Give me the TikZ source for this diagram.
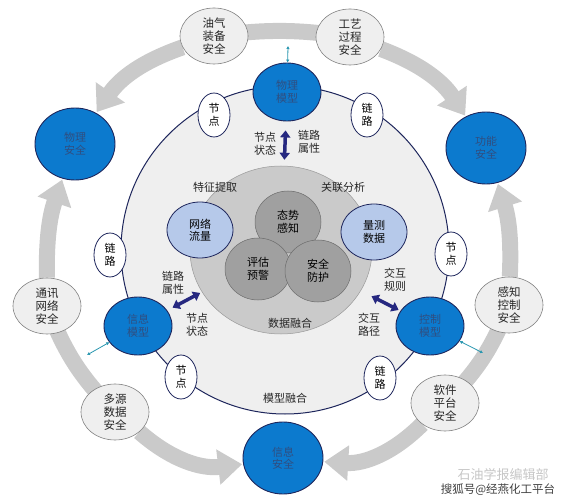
\documentclass[tikz,border=0pt]{standalone}
\usepackage{fontspec}
\setmainfont{Noto Sans CJK SC}
\usepackage{tikz}
\usetikzlibrary{shapes,arrows.meta,positioning,calc,backgrounds}
\definecolor{modelblue}{RGB}{12,122,206}
\definecolor{navyline}{RGB}{30,38,92}
\definecolor{bluetext}{RGB}{48,78,128}
\definecolor{ringgray}{RGB}{202,202,202}
\definecolor{palegray}{RGB}{239,239,239}
\definecolor{fusiongray}{RGB}{202,202,202}
\definecolor{coregray}{RGB}{160,160,160}
\definecolor{paleblue}{RGB}{182,201,234}
\definecolor{arrownavy}{RGB}{38,40,128}
\definecolor{linkcyan}{RGB}{40,150,175}

\begin{document}
\begin{tikzpicture}[
    x=1pt, y=-1pt,
    every node/.style={font=\fontsize{11}{12.5}\selectfont},
    safe/.style={ellipse, draw=navyline, line width=0.9pt, fill=modelblue, minimum width=80pt, minimum height=72pt, inner sep=0pt, align=center, text=bluetext},
    model/.style={safe, minimum width=68pt, minimum height=58pt},
    secbox/.style={ellipse, draw=gray, line width=0.6pt, fill=palegray, minimum width=68pt, minimum height=56pt, inner sep=0pt, align=center, text=black!85, font=\fontsize{11.5}{12.8}\selectfont},
    linktag/.style={ellipse, draw=navyline, line width=0.8pt, fill=white, minimum width=32pt, minimum height=44pt, inner sep=0pt, align=center},
    datasrc/.style={ellipse, draw=navyline, line width=0.8pt, fill=paleblue, minimum width=66pt, minimum height=56pt, inner sep=0pt, align=center},
    corecirc/.style={ellipse, draw=gray!85!black, line width=0.5pt, fill=coregray, minimum width=66pt, minimum height=62pt, inner sep=0pt, align=center},
    lbl/.style={align=center, inner sep=1pt, text=black!85},
    ringband/.style={line width=16pt, draw=ringgray},
    ringarrow/.style={ringband, -{Triangle[width=34pt,length=24pt]}, shorten >=1pt},
    navyflow/.style={{Triangle[width=10pt,length=7pt]}-{Triangle[width=10pt,length=7pt]}, line width=3.5pt, draw=arrownavy},
    cyanlink/.style={{Latex[length=3pt,width=3.5pt]}-{Latex[length=3pt,width=3.5pt]}, line width=0.8pt, draw=linkcyan},
]
    \useasboundingbox (0,0) rectangle (571,500);

    % model ring and data fusion core
    \node[circle, draw=navyline, line width=1pt, fill=palegray, minimum size=328pt] (modelring) at (285,250) {};
    \node[ellipse, draw=gray!80, line width=0.5pt, fill=fusiongray, minimum width=182pt, minimum height=168pt] (fusion) at (281,250) {};
    \node[corecirc] (aware) at (288,222) {态势\\感知};
    \node[corecirc] (warn) at (258,269) {评估\\预警};
    \node[corecirc] (protect) at (318,271) {安全\\防护};
    \node[datasrc] (traffic) at (200,230) {网络\\流量};
    \node[datasrc] (measure) at (374,232) {量测\\数据};

    % labels
    \node[lbl] (extract) at (215,187) {特征提取};
    \node[lbl] (correl) at (343,187) {关联分析};
    \node[lbl] (datafuse) at (290,323) {数据融合};
    \node[lbl] (modelfuse) at (285,398) {模型融合};
    \node[lbl] (nstateT) at (265,144) {节点\\状态};
    \node[lbl] (lattrT) at (309,142) {链路\\属性};
    \node[lbl] (lattrL) at (173,283) {链路\\属性};
    \node[lbl] (nstateL) at (197,325) {节点\\状态};
    \node[lbl] (iruleR) at (395,280) {交互\\规则};
    \node[lbl] (ipathR) at (369,325) {交互\\路径};

    % models on the ring
    \node[model] (physmodel) at (287,92) {物理\\模型};
    \node[model] (infomodel) at (138,326) {信息\\模型};
    \node[model] (ctlmodel) at (430,326) {控制\\模型};

    % node / link tags
    \node[linktag] (nodeTL) at (214,115) {节\\点};
    \node[linktag] (linkTR) at (367,115) {链\\路};
    \node[linktag] (linkL) at (110,255) {链\\路};
    \node[linktag] (nodeR) at (451,254) {节\\点};
    \node[linktag] (nodeBL) at (181,377) {节\\点};
    \node[linktag] (linkBR) at (380,378) {链\\路};

    % model <-> fusion
    \draw[navyflow, shorten <=9pt, shorten >=6pt] (physmodel) -- (fusion);
    \draw[navyflow, shorten <=6pt, shorten >=2pt] (infomodel) -- (fusion);
    \draw[navyflow, shorten <=2pt, shorten >=12pt] (ctlmodel) -- (fusion);

    % outer safety ring
    \node[safe] (physsafe) at (75,144) {物理\\安全};
    \node[safe] (funcsafe) at (486,148) {功能\\安全};
    \node[safe] (infosafe) at (283,458) {信息\\安全};
    \node[secbox] (equip) at (214,36) {油气\\装备\\安全};
    \node[secbox] (process) at (350,37) {工艺\\过程\\安全};
    \node[secbox] (comm) at (47,306) {通讯\\网络\\安全};
    \node[secbox] (multisrc) at (115,412) {多源\\数据\\安全};
    \node[secbox] (sensectl) at (509,305) {感知\\控制\\安全};
    \node[secbox] (software) at (445,403) {软件\\平台\\安全};

    \begin{scope}[on background layer]
        \draw[ringband] (equip.center) to[bend left=8] (process.center);
        \draw[ringarrow] (equip) to[bend right=18] (physsafe);
        \draw[ringarrow] (process) to[bend left=18] (funcsafe);
        \draw[ringarrow] (comm) to[bend left=10] (physsafe);
        \draw[ringband] (comm.center) to[bend right=12] (multisrc.center);
        \draw[ringarrow] (multisrc) to[bend right=24] (infosafe);
        \draw[ringarrow] (sensectl) to[bend right=10] (funcsafe);
        \draw[ringband] (sensectl.center) to[bend left=12] (software.center);
        \draw[ringarrow] (software) to[bend left=24] (infosafe);
    \end{scope}

    % links between ring and models
    \coordinate (bandT) at (288,46);
    \coordinate (bandL) at (87,355);
    \coordinate (bandR) at (483,353);
    \draw[cyanlink] (physmodel) -- (bandT);
    \draw[cyanlink] (infomodel) -- (bandL);
    \draw[cyanlink] (ctlmodel) -- (bandR);

    % watermark
    \node[text=gray!45, font=\fontsize{13}{14}\selectfont] (wmark) at (503,475) {石油学报编辑部};
    \node[text=black!75, font=\fontsize{11.5}{13}\selectfont] (wsource) at (498,490) {搜狐号@经燕化工平台};
\end{tikzpicture}
\end{document}
